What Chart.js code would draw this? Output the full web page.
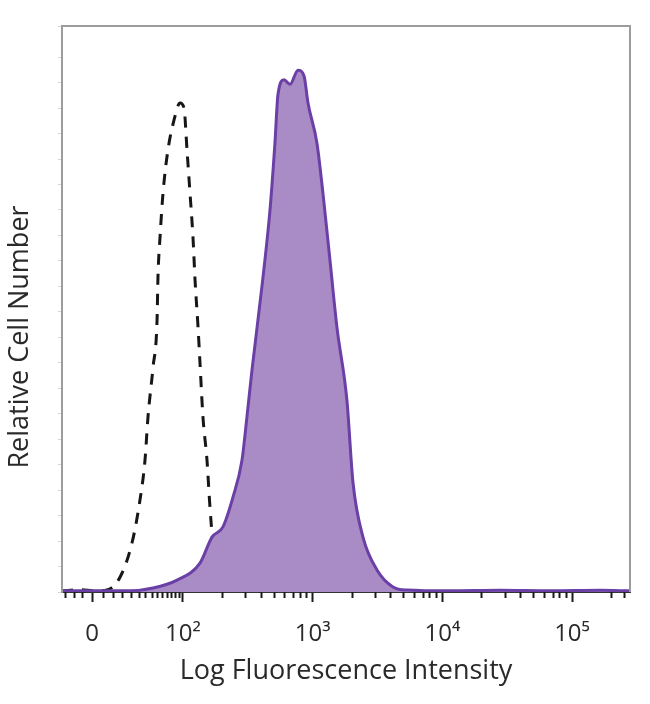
<!DOCTYPE html>
<html>
<head>
<meta charset="utf-8">
<script src="https://cdn.jsdelivr.net/npm/chart.js@4.4.1/dist/chart.umd.min.js"></script>
<style>
  html, body { margin: 0; padding: 0; background: #fff; }
  #wrap { width: 650px; height: 704px; }
</style>
</head>
<body>
<div id="wrap"><canvas id="histChart" width="650" height="704"></canvas></div>
<script>
// x values are positions on the biexponential axis (10^2 -> 2, 10^3 -> 3 ...)
// y values are relative cell number (0 - 100)
const stainedX = [1.067, 1.360, 1.591, 1.769, 1.954, 2.131, 2.224, 2.308, 2.386, 2.455, 2.493, 2.532,
                  2.617, 2.671, 2.709, 2.732, 2.779, 2.825, 2.887, 2.933, 2.964, 3.033, 3.079, 3.133,
                  3.187, 3.264, 3.311, 3.388, 3.496, 3.619, 3.727, 4.059, 4.444, 4.830, 5.215, 5.447];
const stainedY = [0.2, 0.2, 0.2, 0.7, 2.1, 5.1, 9.7, 11.5, 16.8, 23.3, 30.9, 39.2,
                  55.6, 67.5, 79.3, 87.8, 90.5, 89.7, 92.2, 91.2, 86.4, 79.3, 70.5, 58.7,
                  46.8, 33.9, 19.3, 9.7, 3.9, 0.9, 0.35, 0.2, 0.3, 0.2, 0.3, 0.2];

const isotypeX = [1.067, 1.206, 1.322, 1.414, 1.514, 1.607, 1.668, 1.707, 1.730, 1.769, 1.800, 1.807,
                  1.823, 1.846, 1.884, 1.931, 1.977, 2.008, 2.031, 2.054, 2.077, 2.093, 2.116, 2.131,
                  2.154, 2.185, 2.208, 2.231, 2.262, 2.324, 2.378, 2.517];
const isotypeY = [0.2, 0.4, 0.2, 0.35, 2.6, 8.7, 16.2, 23.3, 30.9, 39.7, 48.1, 55.6,
                  62.7, 70.5, 78.1, 83.4, 86.4, 85.5, 78.1, 70.5, 62.7, 55.1, 46.8, 40.5,
                  30.9, 23.3, 15.0, 8.7, 5.1, 0.9, 0.2, 0.1];

const majorTickPos = [1.30, 2, 3, 4, 5];
const majorTickLabels = ['0', '10²', '10³', '10⁴', '10⁵'];
const minorTickPos = [1.09, 1.16, 1.22, 1.38, 1.46, 1.53, 1.60, 1.66, 1.71, 1.76, 1.80, 1.84, 1.88, 1.91, 1.94, 1.97,
                      2.30, 2.48, 2.60, 2.70, 2.78, 2.85, 2.90, 2.95,
                      3.30, 3.48, 3.60, 3.70, 3.78, 3.85, 3.90, 3.95,
                      4.30, 4.48, 4.60, 4.70, 4.78, 4.85, 4.90, 4.95,
                      5.30, 5.40];
const yTitle = 'Relative Cell Number';

const toPoints = (xs, ys) => xs.map((x, i) => ({ x: x, y: ys[i] }));

// gray frame, minor x tick marks and the y axis title (sits a bit below centre)
const framePlugin = {
    id: 'frame',
    afterDraw(chart) {
        const c = chart.ctx;
        const a = chart.chartArea;
        const xs = chart.scales.x;
        c.save();
        c.strokeStyle = '#9c9c9c';
        c.lineWidth = 2;
        c.beginPath();
        c.moveTo(a.left, a.bottom);
        c.lineTo(a.left, a.top);
        c.lineTo(a.right, a.top);
        c.lineTo(a.right, a.bottom);
        c.stroke();
        c.strokeStyle = '#1a1a1a';
        minorTickPos.forEach(v => {
            const px = Math.round(xs.getPixelForValue(v)) + 0.5;
            c.beginPath();
            c.moveTo(px, a.bottom);
            c.lineTo(px, a.bottom + 6);
            c.stroke();
        });
        c.translate(20, (a.top + a.bottom) / 2 + 28);
        c.rotate(-Math.PI / 2);
        c.fillStyle = '#2a2a2a';
        c.font = '27px "Open Sans"';
        c.textAlign = 'center';
        c.textBaseline = 'middle';
        c.fillText(yTitle, 0, 0);
        c.restore();
    }
};

const ctx = document.getElementById('histChart').getContext('2d');
const chart = new Chart(ctx, {
    type: 'line',
    data: {
        datasets: [
            {
                label: 'Stained',
                data: toPoints(stainedX, stainedY),
                borderColor: '#6a3fa6',
                backgroundColor: '#a98cc6',
                borderWidth: 3,
                fill: 'origin',
                cubicInterpolationMode: 'monotone',
                pointRadius: 0
            },
            {
                label: 'Isotype control',
                data: toPoints(isotypeX, isotypeY),
                borderColor: '#161616',
                borderWidth: 3,
                borderDash: [11, 9],
                fill: false,
                cubicInterpolationMode: 'monotone',
                pointRadius: 0
            }
        ]
    },
    options: {
        responsive: false,
        animation: false,
        layout: { padding: { left: 0, right: 20, top: 26, bottom: 16 } },
        plugins: { legend: { display: false }, tooltip: { enabled: false } },
        scales: {
            x: {
                type: 'linear',
                min: 1.067,
                max: 5.447,
                afterFit: s => { s.height = 96; },
                afterBuildTicks: s => { s.ticks = majorTickPos.map(v => ({ value: v })); },
                border: { color: '#333', width: 2 },
                grid: { drawOnChartArea: false, tickLength: 10, tickColor: '#1a1a1a', tickWidth: 2 },
                ticks: {
                    autoSkip: false,
                    maxRotation: 0,
                    padding: 18,
                    color: '#2a2a2a',
                    font: { family: 'Open Sans', size: 24 },
                    callback: (v, i) => majorTickLabels[i]
                },
                title: {
                    display: true,
                    text: 'Log Fluorescence Intensity',
                    color: '#2a2a2a',
                    font: { family: 'Open Sans', size: 27 },
                    padding: { top: 0, bottom: 0 }
                }
            },
            y: {
                min: 0,
                max: 100,
                afterFit: s => { s.width = 62; },
                border: { color: '#9c9c9c', width: 2 },
                grid: { drawOnChartArea: false, tickLength: 4, tickColor: '#d4d4d4' },
                ticks: { display: false, stepSize: 4.5 }
            }
        }
    },
    plugins: [framePlugin]
});
</script>
</body>
</html>
